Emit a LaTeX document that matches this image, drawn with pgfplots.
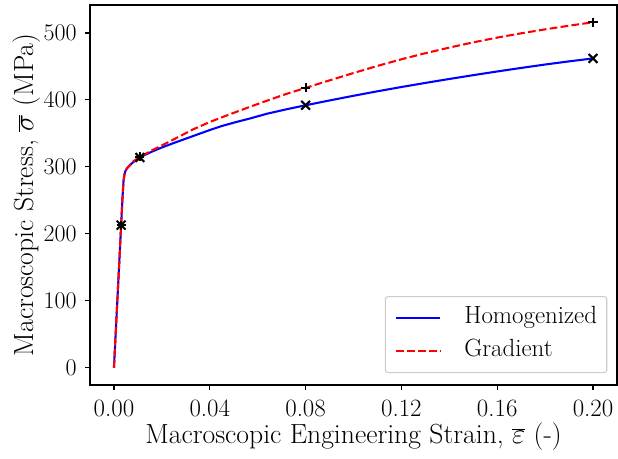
\documentclass[border=0pt]{standalone}
\usepackage{pgfplots}
\pgfplotsset{compat=1.18}

% strain (-) vs. stress (MPa)
\pgfplotstableread{
e       s
0       0
0.0015  106
0.0030  213
0.0036  256
0.0040  279
0.0044  289
0.0048  294
0.0055  298
0.0065  302
0.0080  307
0.0108  314
0.0130  318
0.0160  323
0.0200  329
0.0260  337
0.0330  346
0.0400  355
0.0450  361
0.0500  366
0.0570  372.5
0.0640  379.5
0.0720  386
0.0800  392
0.0900  399.2
0.1000  406.2
0.1100  412.9
0.1200  419.3
0.1300  425.4
0.1400  431.3
0.1500  437
0.1600  442.5
0.1700  447.8
0.1800  452.9
0.1900  457.6
0.2000  462
}\homog

\pgfplotstableread{
e       s
0       0
0.0015  106
0.0030  213
0.0036  256
0.0040  279
0.0044  289
0.0048  294
0.0055  298
0.0065  302
0.0080  308
0.0108  315
0.0130  319
0.0160  325
0.0200  332
0.0260  343
0.0330  356
0.0400  367
0.0450  374
0.0500  380.7
0.0570  390
0.0640  399
0.0720  409
0.0800  418
0.0900  429.2
0.1000  440.2
0.1100  450.8
0.1200  460.7
0.1300  469.8
0.1400  478.2
0.1500  486
0.1600  493.1
0.1700  499.5
0.1800  505.4
0.1900  510.9
0.2000  516
}\grad

% sampled output points
\pgfplotstableread{
e       s
0.0030  213
0.0108  314
0.0800  392
0.2000  462
}\homogpts

\pgfplotstableread{
e       s
0.0030  213
0.0108  315
0.0800  418
0.2000  516
}\gradpts

\begin{document}
\fontsize{18}{22}\selectfont
\begin{tikzpicture}
\begin{axis}[
  scale only axis,
  width=5.27in, height=3.80in,
  xmin=-0.01, xmax=0.21,
  ymin=-25.8, ymax=541.8,
  axis line style={black, line width=0.8pt},
  tick align=outside,
  major tick length=3.5pt,
  tick style={black, line width=0.8pt},
  xtick pos=lower, ytick pos=left,
  xtick={0,0.04,0.08,0.12,0.16,0.2},
  xticklabels={0.00,0.04,0.08,0.12,0.16,0.20},
  ytick={0,100,200,300,400,500},
  ticklabel style={font=\fontsize{18}{22}\selectfont},
  xticklabel style={yshift=-1pt},
  label style={font=\fontsize{20}{24}\selectfont},
  xlabel={Macroscopic Engineering Strain, $\overline{\varepsilon}$ (-)},
  ylabel={Macroscopic Stress, $\overline{\sigma}$ (MPa)},
  xlabel style={at={(rel axis cs:0.5,0)}, anchor=center, yshift=-0.52in},
  ylabel style={at={(rel axis cs:0,0.5)}, anchor=center, rotate=0, yshift=0.635in},
  legend cell align=left,
  legend style={
    at={(1,0)}, anchor=south east, xshift=-7pt, yshift=8.5pt,
    draw=black!20, line width=0.8pt, rounded corners=2pt,
    fill=white, fill opacity=0.8, text opacity=1,
    font=\fontsize{18}{22}\selectfont,
    inner xsep=7pt, inner ysep=6.5pt,
    row sep=6pt, column sep=0pt,
    nodes={inner sep=0pt, text height=13pt, text depth=5pt},
  },
  legend image code/.code={
    \draw[#1] (0pt,0pt) -- (32pt,0pt);
  },
]
\addplot[blue, line width=1.5pt, no markers, line join=round] table[x=e, y=s] {\homog};
\addlegendentry{\hspace{16.5pt}Homogenized}
\addplot[red, line width=1.5pt, no markers, line join=round, dash pattern=on 5.55pt off 2.4pt] table[x=e, y=s] {\grad};
\addlegendentry{\hspace{16.5pt}Gradient}

\addplot[forget plot, only marks, mark=x, mark size=4.5pt, mark options={black, line width=1.5pt}] table[x=e, y=s] {\homogpts};
\addplot[forget plot, only marks, mark=+, mark size=3.3pt, mark options={black, line width=1.5pt}] table[x=e, y=s] {\gradpts};

\coordinate (sw) at (rel axis cs:0,0);
\coordinate (ne) at (rel axis cs:1,1);
\end{axis}
\pgfresetboundingbox
\path[use as bounding box] ([shift={(-0.90in,-0.74in)}]sw) rectangle ([shift={(0.01in,0.05in)}]ne);
\end{tikzpicture}
\end{document}
